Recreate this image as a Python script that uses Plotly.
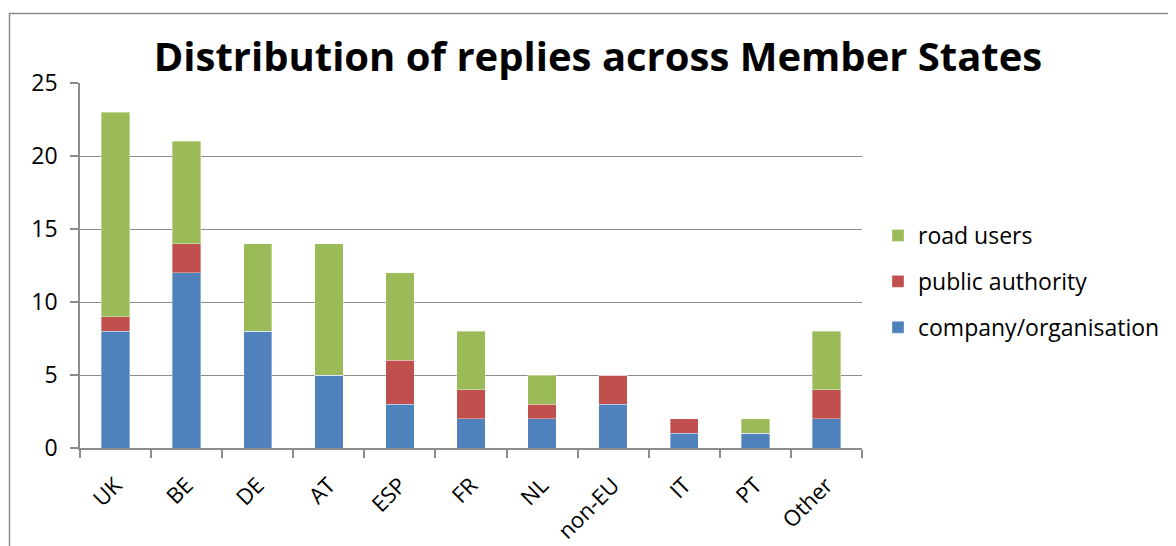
import plotly.graph_objects as go

categories = ["UK", "BE", "DE", "AT", "ESP", "FR", "NL", "non-EU", "IT", "PT", "Other"]
company = [8, 12, 8, 5, 3, 2, 2, 3, 1, 1, 2]
public_auth = [1, 2, 0, 0, 3, 2, 1, 2, 1, 0, 2]
road_users = [14, 7, 6, 9, 6, 4, 2, 0, 0, 1, 4]

FONT = "Open Sans"
GRID = "#8c8c8c"
OFF = 8  # page body margin

fig = go.Figure()
series = [
    ("company/organisation", company, "#4F81BD", 3),
    ("public authority", public_auth, "#C0504D", 2),
    ("road users", road_users, "#9BBB59", 1),
]
for i, (name, vals, col, rank) in enumerate(series):
    fig.add_trace(go.Bar(
        x=categories, y=vals, name=name, legendgroup=str(i), legendrank=rank,
        marker=dict(color=col, line=dict(color="rgba(255,255,255,0.6)", width=0.6)),
    ))

# page-pixel targets converted to figure coords
L, R, T, B = 80 - OFF, 862 - OFF, 83 - OFF, 448 - OFF
W, H = 1176 - OFF, 546 - OFF
pw, ph = R - L, B - T

def px(xp):
    return (xp - OFF - L) / pw

def py(yp):
    return (B - (yp - OFF)) / ph

fig.update_layout(
    width=W, height=H,
    barmode="stack", bargap=0.6,
    margin=dict(l=L, r=W - R, t=T, b=H - B, autoexpand=False),
    paper_bgcolor="white", plot_bgcolor="white",
    font=dict(family=FONT, size=23, color="black"),
    title=dict(text="<b>Distribution of replies across Member States</b>",
               x=(598 - OFF) / W, xanchor="center", y=1 - (57 - OFF) / H, yanchor="middle",
               font=dict(family=FONT, size=40, color="black")),
    legend=dict(x=px(878), xanchor="left", y=py(214), yanchor="top",
                traceorder="grouped", tracegroupgap=13,
                font=dict(family=FONT, size=23), bgcolor="rgba(0,0,0,0)"),
    showlegend=True,
    shapes=[dict(type="rect", xref="paper", yref="paper", layer="below",
                 x0=px(9.5), x1=px(1200), y0=py(570), y1=py(13.5),
                 line=dict(color="#8c8c8c", width=1.5), fillcolor="rgba(0,0,0,0)")],
)
fig.update_yaxes(range=[0, 25], dtick=5, showgrid=True, gridcolor=GRID, gridwidth=1,
                 showline=True, linecolor=GRID, linewidth=1.5,
                 ticks="outside", ticklen=8, tickcolor=GRID, tickwidth=1.5, automargin=False,
                 zeroline=False, tickfont=dict(size=23, family=FONT), ticklabelstandoff=8)
fig.update_xaxes(showline=True, linecolor=GRID, linewidth=1.5,
                 ticks="outside", ticklen=8, tickcolor=GRID, tickwidth=1.5, automargin=False,
                 tickson="boundaries", tickangle=-45, showgrid=False,
                 tickfont=dict(size=22, family=FONT), ticklabelstandoff=14)

fig.write_html("out.html")
